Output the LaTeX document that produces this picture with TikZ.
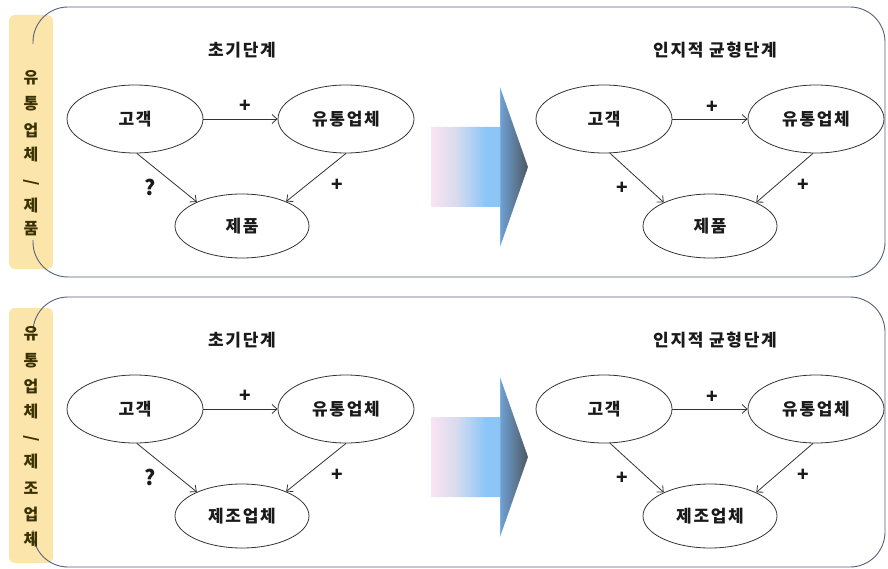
\documentclass[tikz,border=0pt]{standalone}
\usepackage{fontspec}
\setmainfont{Noto Sans CJK KR}[BoldFont={Noto Sans CJK KR Black}]
\usetikzlibrary{shapes.geometric,arrows.meta}
\definecolor{tabfill}{HTML}{FCE5AA}
\definecolor{tabtext}{HTML}{3A3100}
\definecolor{panelline}{HTML}{56627A}
\definecolor{edgecol}{HTML}{333333}
\definecolor{txtcol}{HTML}{1A1A1A}
\definecolor{apink}{HTML}{FAE4F2}
\definecolor{alav}{HTML}{D8DCEE}
\definecolor{ablue}{HTML}{8CC6F8}
\definecolor{ablue3}{HTML}{6E9ED0}
\definecolor{adark}{HTML}{4E5862}
\pgfdeclarehorizontalshading{bigarrshade}{100bp}{color(0bp)=(apink); color(25bp)=(apink); color(38bp)=(alav); color(53bp)=(ablue); color(60bp)=(ablue); color(61bp)=(ablue3); color(75bp)=(adark); color(100bp)=(adark)}
\newcommand{\krtext}[1]{\fontsize{#1}{#1}\selectfont\bfseries\addfontfeatures{LetterSpace=10}}
\tikzset{
  ell/.style={ellipse, draw=edgecol, line width=0.8pt, minimum width=136pt, minimum height=68pt, inner sep=0pt, text=txtcol, font=\krtext{17}},
  ellc/.style={ell, minimum width=134pt, minimum height=64pt},
  rel/.style={draw=edgecol, line width=0.8pt, -{Straight Barb[length=5pt,width=9pt]}},
  sgn/.style={font=\fontsize{19}{20}\selectfont\bfseries, text=txtcol, inner sep=0pt},
  ttl/.style={font=\krtext{17}, text=txtcol, inner sep=0pt},
  tabch/.style={font=\fontsize{16}{16}\selectfont\bfseries, text=tabtext, inner sep=0pt},
  panel/.style={draw=panelline, line width=0.9pt, rounded corners=35pt},
  tabbox/.style={fill=tabfill, rounded corners=6pt},
}
\begin{document}
\begin{tikzpicture}[x=1pt,y=-1pt]
\useasboundingbox (0,0) rectangle (888,569);
% ---------- top panel ----------
\fill[tabbox] (9,15) rectangle (53,269);
\draw[panel] (33,240) -- (33,277) -- (885,277) -- (885,7) -- (33,7) -- (33,44);
\node[tabch] (t1a) at (31,78) {유};
\node[tabch] (t1b) at (31,104) {통};
\node[tabch] (t1c) at (31,130) {업};
\node[tabch] (t1d) at (31,155) {체};
\node[tabch, rotate=90] (t1e) at (31,182) {/};
\node[tabch] (t1f) at (31,206) {제};
\node[tabch] (t1g) at (31,229) {품};

\node[ttl] (h1l) at (242,50) {초기단계};
\node[ttl] (h1r) at (715,50) {인지적 균형단계};

\node[ell] (a1) at (135,119) {고객};
\node[ell] (b1) at (346,119) {유통업체};
\node[ellc] (c1) at (242,226) {제품};
\draw[rel] (a1.east) -- (b1.west);
\draw[rel] (a1.-87) -- (c1.152);
\draw[rel] (b1.-90) -- (c1.29);
\node[sgn] (p1a) at (245,106) {+};
\node[sgn, font=\fontsize{21}{22}\selectfont\bfseries] (p1b) at (150,187) {?};
\node[sgn] (p1c) at (337,185) {+};

\shade[shading=bigarrshade] (431,127) -- (500,127) -- (500,87) -- (528,167) -- (500,247) -- (500,207) -- (431,207) -- cycle;

\node[ell] (d1) at (604,119) {고객};
\node[ell] (e1) at (816,119) {유통업체};
\node[ellc] (f1) at (710,226) {제품};
\draw[rel] (d1.east) -- (e1.west);
\draw[rel] (d1.-80) -- (f1.153);
\draw[rel] (e1.-95) -- (f1.27);
\node[sgn] (q1a) at (712,107) {+};
\node[sgn] (q1b) at (622,188) {+};
\node[sgn] (q1c) at (803,185) {+};

% ---------- bottom panel ----------
\fill[tabbox] (9,308) rectangle (53,563);
\draw[panel] (33,530) -- (33,567) -- (885,567) -- (885,297) -- (33,297) -- (33,334);
\node[tabch] (t2a) at (31,334) {유};
\node[tabch] (t2b) at (31,361) {통};
\node[tabch] (t2c) at (31,386) {업};
\node[tabch] (t2d) at (31,411) {체};
\node[tabch, rotate=90] (t2e) at (31,438) {/};
\node[tabch] (t2f) at (31,461) {제};
\node[tabch] (t2g) at (31,488) {조};
\node[tabch] (t2h) at (31,514) {업};
\node[tabch] (t2i) at (31,539) {체};

\node[ttl] (h2l) at (242,340) {초기단계};
\node[ttl] (h2r) at (715,340) {인지적 균형단계};

\node[ell] (a2) at (135,409) {고객};
\node[ell] (b2) at (346,409) {유통업체};
\node[ellc] (c2) at (242,516) {제조업체};
\draw[rel] (a2.east) -- (b2.west);
\draw[rel] (a2.-87) -- (c2.152);
\draw[rel] (b2.-90) -- (c2.29);
\node[sgn] (p2a) at (245,396) {+};
\node[sgn, font=\fontsize{21}{22}\selectfont\bfseries] (p2b) at (150,477) {?};
\node[sgn] (p2c) at (337,475) {+};

\shade[shading=bigarrshade] (431,417) -- (500,417) -- (500,377) -- (528,457) -- (500,537) -- (500,497) -- (431,497) -- cycle;

\node[ell] (d2) at (604,409) {고객};
\node[ell] (e2) at (816,409) {유통업체};
\node[ellc] (f2) at (710,516) {제조업체};
\draw[rel] (d2.east) -- (e2.west);
\draw[rel] (d2.-80) -- (f2.153);
\draw[rel] (e2.-95) -- (f2.27);
\node[sgn] (q2a) at (712,397) {+};
\node[sgn] (q2b) at (622,478) {+};
\node[sgn] (q2c) at (803,475) {+};
\end{tikzpicture}
\end{document}
